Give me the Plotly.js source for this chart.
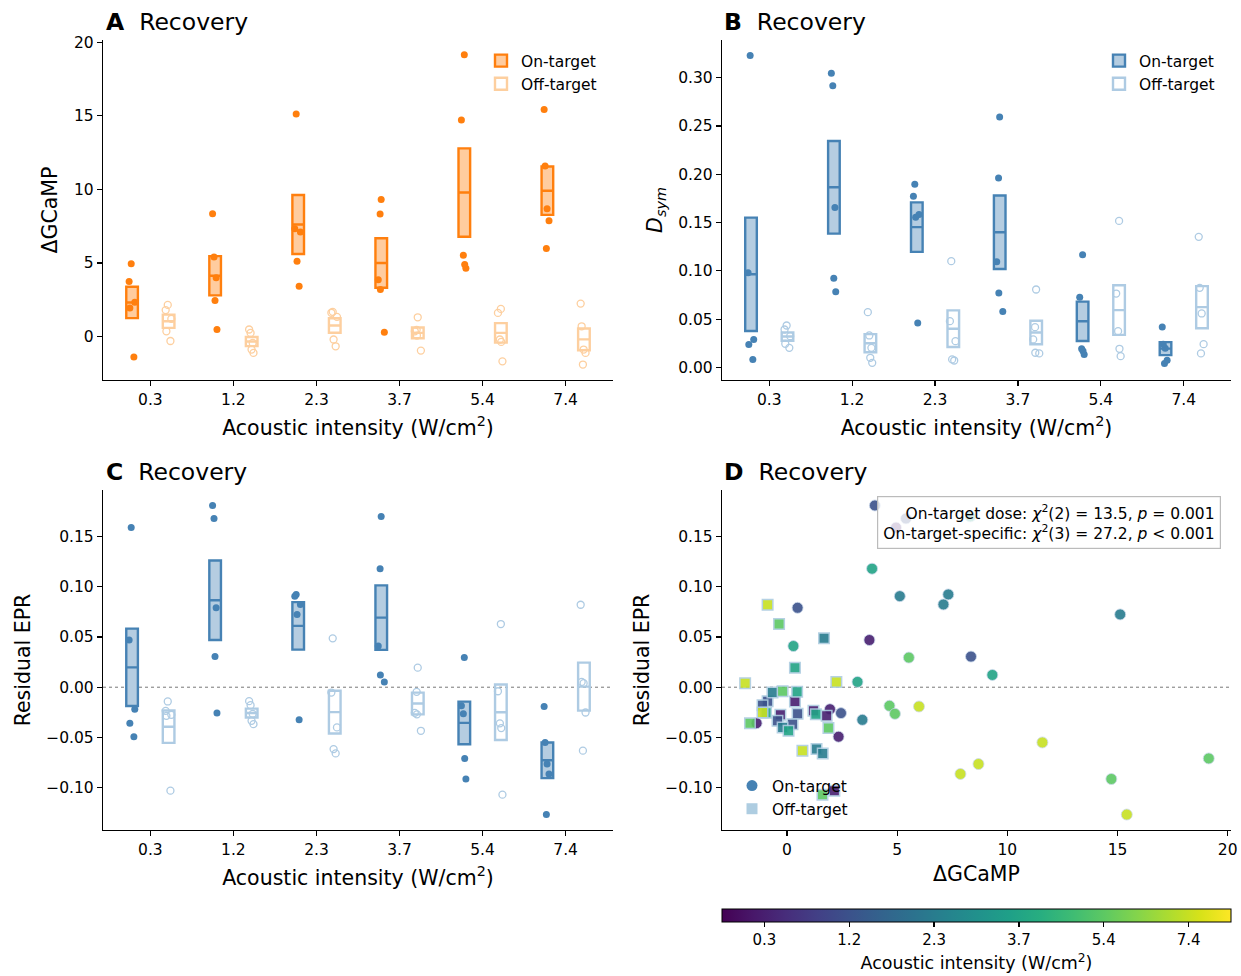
<!DOCTYPE html>
<html>
<head>
<meta charset="utf-8">
<script src="https://cdn.plot.ly/plotly-3.0.1.min.js"></script>
<style>
  html, body { margin: 0; padding: 0; background: #fff; }
  #fig { width: 1241px; height: 976px; }
</style>
</head>
<body>
<div id="fig"></div>
<script>
// Stimulation intensities (W/cm^2), one group per intensity
const intensities = ['0.3', '1.2', '2.3', '3.7', '5.4', '7.4'];

// ΔGCaMP during recovery, one row per intensity, 5 animals each
const gcampOn = [
  [4.95, 3.74, 2.34, 1.95, -1.38],
  [3.99, 5.40, 0.48, 8.35, 2.45],
  [5.12, 7.32, 7.10, 15.12, 3.42],
  [8.32, 3.86, 0.29, 9.32, 3.20],
  [5.53, 4.65, 4.90, 19.14, 14.72],
  [5.99, 11.59, 8.69, 7.87, 15.42]
];
const gcampOff = [
  [2.15, 1.80, 1.20, 0.36, -0.30],
  [0.48, 0.25, -0.43, -0.88, -1.11],
  [1.68, -0.66, 1.34, 1.62, -0.20],
  [1.31, 0.36, 0.46, 0.07, -0.95],
  [1.88, 1.61, -0.20, -0.36, -1.68],
  [2.24, 0.70, -0.88, -1.11, -1.90]
];

// Symmetrised divergence D_sym
const dsymOn = [
  [0.323, 0.098, 0.029, 0.0238, 0.0083],
  [0.3045, 0.2917, 0.1655, 0.0924, 0.0783],
  [0.1896, 0.1772, 0.1583, 0.1555, 0.0459],
  [0.2593, 0.1962, 0.1093, 0.0772, 0.0579],
  [0.1166, 0.0727, 0.0193, 0.0169, 0.0134],
  [0.042, 0.024, 0.020, 0.0075, 0.004]
];
const dsymOff = [
  [0.0434, 0.0393, 0.0324, 0.0245, 0.0203],
  [0.0572, 0.0331, 0.0203, 0.0100, 0.0048],
  [0.110, 0.0479, 0.0272, 0.0083, 0.0072],
  [0.0807, 0.0417, 0.029, 0.0152, 0.0145],
  [0.1517, 0.0765, 0.0376, 0.0193, 0.0117],
  [0.1352, 0.0824, 0.0559, 0.0241, 0.0145]
];

// Residual entropy production rate (same animals, same order as ΔGCaMP)
const eprOn = [
  [0.159, 0.047, -0.0493, -0.0219, -0.0358],
  [0.181, 0.168, 0.0791, 0.0305, -0.0258],
  [0.0907, 0.0924, 0.0824, 0.0725, -0.0325],
  [0.170, 0.118, 0.041, 0.0122, 0.0053],
  [0.0295, -0.0185, -0.0265, -0.0709, -0.0914],
  [-0.0192, -0.055, -0.0765, -0.0864, -0.1268]
];
const eprOff = [
  [-0.103, -0.0285, -0.0235, -0.0142, -0.0275],
  [-0.0265, -0.0368, -0.0335, -0.0139, -0.0179],
  [0.0487, -0.0053, -0.0616, -0.0659, -0.040],
  [-0.027, 0.0195, -0.0046, -0.0434, -0.0255],
  [-0.0407, -0.107, -0.004, 0.0629, -0.036],
  [0.0053, -0.0632, 0.0821, -0.0252, 0.004]
];

// Model comparison statistics shown in panel D
const statLines = [
  {label: 'On-target dose', df: 2, chi2: '13.5', p: '= 0.001'},
  {label: 'On-target-specific', df: 3, chi2: '27.2', p: '&lt; 0.001'}
];

// ---------- helpers ----------
const FONT = 'DejaVu Sans, Liberation Sans, sans-serif';
const mean = a => a.reduce((s, v) => s + v, 0) / a.length;
const sem = a => {
  const m = mean(a);
  const v = a.reduce((s, x) => s + (x - m) * (x - m), 0) / (a.length - 1);
  return Math.sqrt(v / a.length);
};
const OFFSET = 0.22;      // on/off side-by-side placement around each intensity tick
const BOXW = 0.14;

const styles = {
  orange: {onLine: '#ff7f0e', onFill: '#ffcc9f', off: '#fdcf9f'},
  blue:   {onLine: '#4682b4', onFill: '#b5cde1', off: '#aecbe3'}
};

// mean ± SEM boxes plus individual animals for one panel
function groupTraces(onData, offData, pal, ax, legendId) {
  const xa = 'x' + ax, ya = 'y' + ax;
  const pos = shift => onData.map((_, i) => i + shift);
  const summary = (data, shift, name, fill, line) => {
    const m = data.map(mean), s = data.map(sem);
    const lo = m.map((v, i) => v - s[i]), hi = m.map((v, i) => v + s[i]);
    return {
      type: 'box', orientation: 'v', name: name, x: pos(shift),
      q1: lo, median: m, q3: hi, lowerfence: lo, upperfence: hi,
      width: BOXW, whiskerwidth: 0, fillcolor: fill,
      line: {color: line, width: 2.4}, boxpoints: false,
      xaxis: xa, yaxis: ya, hoverinfo: 'skip',
      legend: legendId, showlegend: !!legendId
    };
  };
  const points = (data, shift, marker) => {
    const xs = [], ys = [];
    data.forEach((g, i) => g.forEach(v => { xs.push(i + shift); ys.push(v); }));
    return {
      type: 'box', orientation: 'v', x: xs, y: ys, width: BOXW,
      boxpoints: 'all', jitter: 0.6, pointpos: 0,
      fillcolor: 'rgba(0,0,0,0)', line: {color: 'rgba(0,0,0,0)', width: 0},
      marker: marker, xaxis: xa, yaxis: ya, showlegend: false, hoverinfo: 'y'
    };
  };
  return [
    summary(onData, -OFFSET, 'On-target', pal.onFill, pal.onLine),
    summary(offData, OFFSET, 'Off-target', 'rgba(255,255,255,0)', pal.off),
    points(onData, -OFFSET, {color: pal.onLine, size: 7}),
    points(offData, OFFSET, {symbol: 'circle-open', color: pal.off, size: 7, line: {width: 1.3, color: pal.off}})
  ];
}

const traces = [];
traces.push(...groupTraces(gcampOn, gcampOff, styles.orange, '', 'legend'));
traces.push(...groupTraces(dsymOn, dsymOff, styles.blue, '2', 'legend2'));
traces.push(...groupTraces(eprOn, eprOff, styles.blue, '3', null));

// Panel D: residual EPR against ΔGCaMP, coloured by intensity
function flat(arr) { return [].concat(...arr); }
function groupIndex(arr) { return flat(arr.map((g, i) => g.map(() => i))); }
const cbar = {
  orientation: 'h', x: 976.5 / 1241, xanchor: 'center', y: 1 - 909 / 976, yanchor: 'top',
  len: 509 / 1241, lenmode: 'fraction', thickness: 13, xpad: 0, ypad: 0,
  outlinewidth: 1, outlinecolor: '#000',
  tickvals: intensities.map((_, i) => i), ticktext: intensities,
  ticks: 'outside', ticklen: 5, tickwidth: 1.2, tickcolor: '#000',
  tickfont: {family: FONT, size: 15, color: '#000'},
  title: {text: 'Acoustic intensity (W/cm<sup>2</sup>)', side: 'bottom', font: {family: FONT, size: 17.5, color: '#000'}}
};
traces.push({
  type: 'scatter', mode: 'markers', x: flat(gcampOn), y: flat(eprOn),
  xaxis: 'x4', yaxis: 'y4', showlegend: false,
  marker: {symbol: 'circle', size: 11, color: groupIndex(gcampOn), colorscale: 'Viridis',
           cmin: -0.5, cmax: 5.5, opacity: 0.9, showscale: true, colorbar: cbar,
           line: {color: 'rgba(200,215,235,0.8)', width: 1}}
});
traces.push({
  type: 'scatter', mode: 'markers', x: flat(gcampOff), y: flat(eprOff),
  xaxis: 'x4', yaxis: 'y4', showlegend: false,
  marker: {symbol: 'square', size: 10.5, color: groupIndex(gcampOff), colorscale: 'Viridis',
           cmin: -0.5, cmax: 5.5, opacity: 0.9, showscale: false,
           line: {color: '#aecde1', width: 1.5}}
});
// legend keys for panel D
traces.push({type: 'scatter', mode: 'markers', x: [null], y: [null], xaxis: 'x4', yaxis: 'y4',
  name: 'On-target', legend: 'legend3', marker: {symbol: 'circle', size: 11, color: '#4682b4'}});
traces.push({type: 'scatter', mode: 'markers', x: [null], y: [null], xaxis: 'x4', yaxis: 'y4',
  name: 'Off-target', legend: 'legend3', marker: {symbol: 'square', size: 11, color: '#aecde1'}});

// ---------- layout ----------
const W = 1241, H = 976;
const px = v => v / W, py = v => 1 - v / H;
const axisBase = {
  showline: true, linecolor: '#000', linewidth: 1.2, mirror: false,
  ticks: 'outside', ticklen: 5, tickwidth: 1.2, tickcolor: '#000',
  showgrid: false, zeroline: false,
  tickfont: {family: FONT, size: 15.5, color: '#000'}
};
const titleFont = {family: FONT, size: 20.5, color: '#000'};
const xIntensity = (dom, anchor) => Object.assign({}, axisBase, {
  domain: dom, anchor: anchor, range: [-0.57, 5.57],
  tickmode: 'array', tickvals: intensities.map((_, i) => i), ticktext: intensities,
  title: {text: 'Acoustic intensity (W/cm<sup>2</sup>)', font: titleFont, standoff: 12}
});
const yAxis = (dom, anchor, range, dtick, fmt, title) => Object.assign({}, axisBase, {
  domain: dom, anchor: anchor, range: range, dtick: dtick, tick0: 0, tickformat: fmt,
  title: {text: title, font: titleFont, standoff: 10}
});
const colL = [px(103), px(613)], colR = [px(722), px(1231)];
const rowT = [py(380), py(40)], rowB = [py(830), py(490)];

const legendBase = {
  bgcolor: 'rgba(0,0,0,0)', borderwidth: 0,
  font: {family: FONT, size: 15.5, color: '#000'}, yanchor: 'top'
};

const panelTitle = (letter, x, y) => ({
  xref: 'paper', yref: 'paper', x: px(x), y: py(y), xanchor: 'left', yanchor: 'middle',
  showarrow: false, text: '<b>' + letter + '</b>\u00a0\u00a0Recovery',
  font: {family: FONT, size: 23.5, color: '#000'}
});

const statText = statLines.map(s =>
  s.label + ': <i>χ</i><sup>2</sup>(' + s.df + ') = ' + s.chi2 + ', <i>p</i> ' + s.p).join('<br>');

const layout = {
  width: W, height: H, margin: {l: 0, r: 0, t: 0, b: 0},
  paper_bgcolor: '#fff', plot_bgcolor: 'rgba(0,0,0,0)',
  font: {family: FONT, color: '#000'}, boxmode: 'overlay', hovermode: 'closest',
  xaxis: xIntensity(colL, 'y'),
  yaxis: yAxis(rowT, 'x', [-2.95, 20.15], 5, 'd', 'ΔGCaMP'),
  xaxis2: xIntensity(colR, 'y2'),
  yaxis2: yAxis(rowT, 'x2', [-0.013, 0.339], 0.05, '.2f', '<i>D</i><sub><i>sym</i></sub>'),
  xaxis3: xIntensity(colL, 'y3'),
  yaxis3: yAxis(rowB, 'x3', [-0.1422, 0.1964], 0.05, '.2f', 'Residual EPR'),
  xaxis4: Object.assign({}, axisBase, {domain: colR, anchor: 'y4', range: [-2.95, 20.15], dtick: 5, tick0: 0,
    title: {text: 'ΔGCaMP', font: titleFont, standoff: 8}}),
  yaxis4: yAxis(rowB, 'x4', [-0.1422, 0.1964], 0.05, '.2f', 'Residual EPR'),
  legend: Object.assign({}, legendBase, {x: px(602), xanchor: 'right', y: py(44)}),
  legend2: Object.assign({}, legendBase, {x: px(1220), xanchor: 'right', y: py(44)}),
  legend3: Object.assign({}, legendBase, {x: px(732), xanchor: 'left', y: py(826), yanchor: 'bottom'}),
  shapes: ['3', '4'].map(a => ({
    type: 'line', xref: 'x' + a + ' domain', x0: 0, x1: 1, yref: 'y' + a, y0: 0, y1: 0,
    line: {color: '#777', width: 1, dash: 'dot'}, layer: 'below'
  })),
  annotations: [
    panelTitle('A', 104, 22), panelTitle('B', 722, 22),
    panelTitle('C', 104, 472), panelTitle('D', 722, 472),
    {xref: 'paper', yref: 'paper', x: px(1221), y: py(496), xanchor: 'right', yanchor: 'top',
     showarrow: false, align: 'right', text: statText,
     font: {family: FONT, size: 15.5, color: '#000'},
     bgcolor: 'rgba(255,255,255,0.8)', bordercolor: '#bbb', borderwidth: 1.2, borderpad: 5}
  ]
};

Plotly.newPlot('fig', traces, layout, {displayModeBar: false, staticPlot: true});
</script>
</body>
</html>
